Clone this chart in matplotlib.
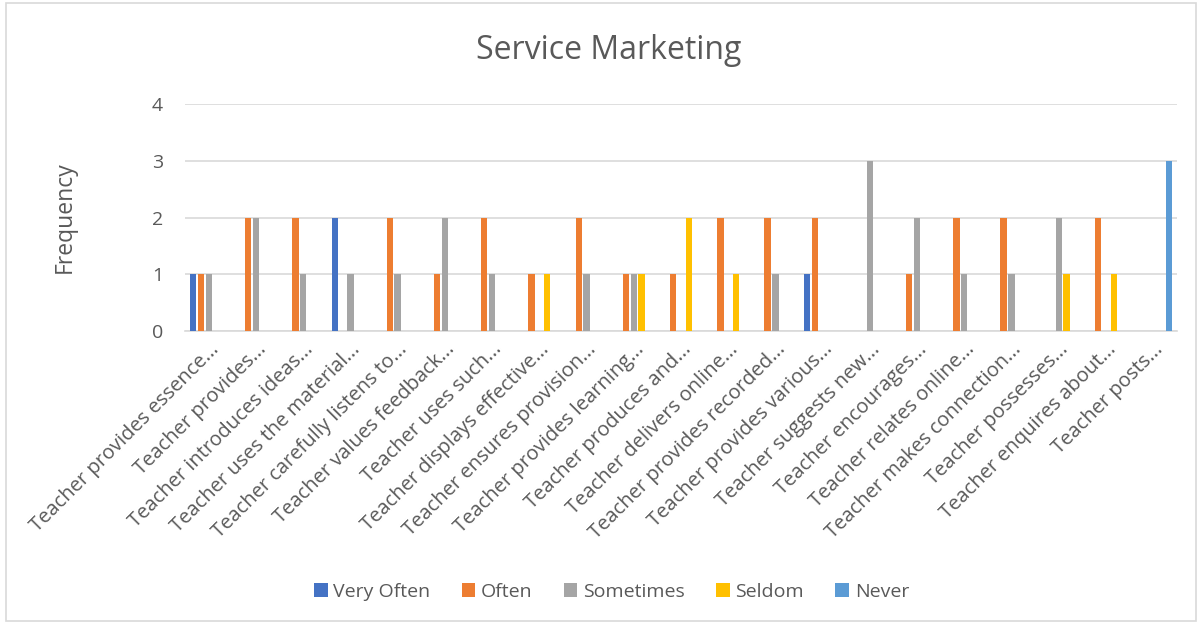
import numpy as np
import matplotlib
matplotlib.use("Agg")
import matplotlib.pyplot as plt
from matplotlib.patches import Rectangle

plt.rcParams['font.family'] = ['Open Sans', 'DejaVu Sans']

categories = [
    "Teacher provides essence...", "Teacher provides...", "Teacher introduces ideas...",
    "Teacher uses the material...", "Teacher carefully listens to...",
    "Teacher values feedback...", "Teacher uses such...", "Teacher displays effective...",
    "Teacher ensures provision...", "Teacher provides learning...",
    "Teacher produces and...", "Teacher delivers online...", "Teacher provides recorded...",
    "Teacher provides various...", "Teacher suggests new...", "Teacher encourages...",
    "Teacher relates online...", "Teacher makes connection...", "Teacher possesses...",
    "Teacher enquires about...", "Teacher posts...",
]
series_names = ["Very Often", "Often", "Sometimes", "Seldom", "Never"]
very_often = [1, 0, 0, 2, 0, 0, 0, 0, 0, 0, 0, 0, 0, 1, 0, 0, 0, 0, 0, 0, 0]
often      = [1, 2, 2, 0, 2, 1, 2, 1, 2, 1, 1, 2, 2, 2, 0, 1, 2, 2, 0, 2, 0]
sometimes  = [1, 2, 1, 1, 1, 2, 1, 0, 1, 1, 0, 0, 1, 0, 3, 2, 1, 1, 2, 0, 0]
seldom     = [0, 0, 0, 0, 0, 0, 0, 1, 0, 1, 2, 1, 0, 0, 0, 0, 0, 0, 1, 1, 0]
never      = [0, 0, 0, 0, 0, 0, 0, 0, 0, 0, 0, 0, 0, 0, 0, 0, 0, 0, 0, 0, 3]
colors = ["#4472C4", "#ED7D31", "#A5A5A5", "#FFC000", "#5B9BD5"]

fig = plt.figure(figsize=(12.02, 6.27), dpi=100)
ax = fig.add_axes([0.154, 0.472, 0.825, 0.362])

x = np.arange(len(categories))
slot = 0.165
for i, (vals, name, c) in enumerate(zip([very_often, often, sometimes, seldom, never],
                                          series_names, colors)):
    ax.bar(x + (i - 2) * slot, vals, width=slot * 0.82, color=c, label=name, zorder=3)

ax.set_xlim(-0.5, len(categories) - 0.5)
ax.set_ylim(0, 4)
ax.set_yticks([0, 1, 2, 3, 4])
ax.yaxis.grid(True, color="#d9d9d9", linewidth=1.2, zorder=0)
for s in ["top", "right", "left"]:
    ax.spines[s].set_visible(False)
ax.spines["bottom"].set_color("#d9d9d9")
ax.spines["bottom"].set_linewidth(1.2)
ax.tick_params(axis="both", length=0, colors="#595959")
ax.tick_params(axis="y", pad=16, labelsize=14)
ax.tick_params(axis="x", pad=6, labelsize=14.5)
ax.set_xticks(x)
ax.set_xticklabels(categories, rotation=45, ha="right", rotation_mode="anchor")
ax.set_ylabel("Frequency", fontsize=16.5, color="#595959", labelpad=54)

fig.text(0.506, 0.92, "Service Marketing", fontsize=23, color="#595959",
         ha="center", va="center")

ax.legend(loc="center", bbox_to_anchor=(0.43, -1.15), ncol=5, frameon=False,
          fontsize=14, handlelength=0.7, handleheight=0.7, handletextpad=0.3,
          columnspacing=1.6, labelcolor="#595959")

fig.patches.append(Rectangle((0.005, 0.01), 0.99, 0.985, transform=fig.transFigure,
                             fill=False, edgecolor="#d9d9d9", linewidth=1.2))

fig.savefig("out.png", dpi=100)
